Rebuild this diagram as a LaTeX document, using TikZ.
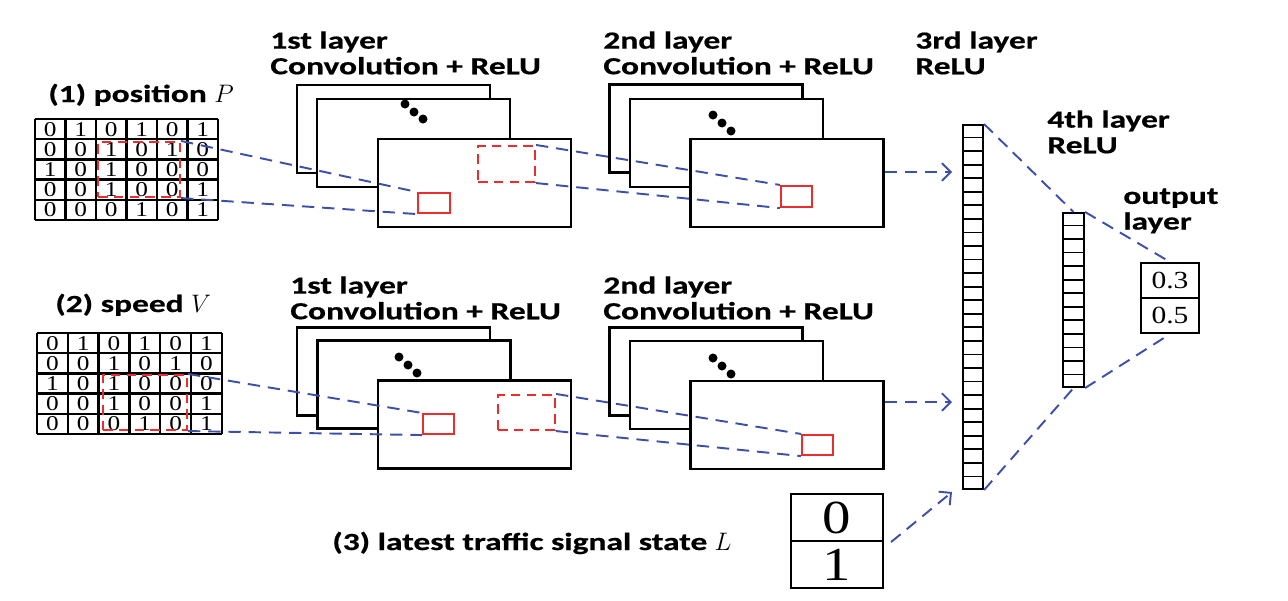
\documentclass[tikz,border=0pt]{standalone}
\usepackage{fontspec}
\newfontfamily\lblfont[FakeStretch=1.36,FakeBold=0.6]{Carlito}
\newfontfamily\numfont[FakeStretch=1.2]{Liberation Serif}
\usetikzlibrary{arrows.meta,calc}
\definecolor{linkblue}{RGB}{60,80,170}
\definecolor{winred}{RGB}{235,45,45}
\tikzset{
  fmap/.style={draw,fill=white,line width=1.2pt,minimum width=3.86cm,minimum height=1.76cm,inner sep=0pt},
  kbox/.style={draw=winred,line width=1.2pt,inner sep=0pt},
  kwin/.style={draw=winred,dash pattern=on 5.5pt off 3.5pt,line width=1.2pt,inner sep=0pt},
  link/.style={draw=linkblue,line width=1.1pt,dash pattern=on 7pt off 4.5pt},
  lbl/.style={font=\lblfont\bfseries\fontsize{14}{14.6}\selectfont,align=left,inner sep=0pt},
  num/.style={font=\numfont\fontsize{12}{12}\selectfont,inner sep=0pt},
  bar/.style={draw,line width=1.2pt,inner sep=0pt},
  dot/.style={circle,fill,inner sep=0pt,minimum size=0.18cm},
}
\begin{document}
\begin{tikzpicture}[x=0.02cm,y=-0.02cm]
  \useasboundingbox (0,0) rectangle (1288,600);
  % input matrices
  \begin{scope}[shift={(35,119)}]
    \foreach \c in {0,...,6} \draw[line width=1.4pt] (\c*30.5,0) -- (\c*30.5,101);
    \foreach \r in {0,...,5} \draw[line width=1.4pt] (0,\r*20.2) -- (183,\r*20.2);
    \foreach \vals [count=\r] in {{0,1,0,1,0,1},{0,0,1,0,1,0},{1,0,1,0,0,0},{0,0,1,0,0,1},{0,0,0,1,0,1}}
      \foreach \v [count=\c] in \vals
        \node[num] (p\r\c) at (\c*30.5-15.25,\r*20.2-10.1) {\v};
  \end{scope}
  \begin{scope}[shift={(37,333)}]
    \foreach \c in {0,...,6} \draw[line width=1.4pt] (\c*30.8,0) -- (\c*30.8,101);
    \foreach \r in {0,...,5} \draw[line width=1.4pt] (0,\r*20.2) -- (185,\r*20.2);
    \foreach \vals [count=\r] in {{0,1,0,1,0,1},{0,0,1,0,1,0},{1,0,1,0,0,0},{0,0,1,0,0,1},{0,0,0,1,0,1}}
      \foreach \v [count=\c] in \vals
        \node[num] (v\r\c) at (\c*30.8-15.4,\r*20.2-10.1) {\v};
  \end{scope}
  \node[kwin,minimum width=1.64cm,minimum height=1.1cm] (pwin) at (139,169.5) {};
  \node[kwin,minimum width=1.68cm,minimum height=1.1cm] (vwin) at (145,402.5) {};
  \node[lbl,anchor=base west] (ptitle) at (48,102) {(1) position $P$};
  \node[lbl,anchor=base west] (vtitle) at (55,312) {(2) speed $V$};
  % feature maps, position branch
  \node[fmap] (l1pa) at (393.5,129) {};
  \node[fmap] (l1pb) at (413.5,143) {};
  \node[fmap] (l1pf) at (474.5,183) {};
  \node[dot] (l1pd1) at (405,104) {};
  \node[dot] (l1pd2) at (414,112) {};
  \node[dot] (l1pd3) at (423,119) {};
  \node[fmap] (l2pa) at (706,128.5) {};
  \node[fmap] (l2pb) at (726.5,143) {};
  \node[fmap] (l2pf) at (787,183) {};
  \node[dot] (l2pd1) at (713,115) {};
  \node[dot] (l2pd2) at (722,123) {};
  \node[dot] (l2pd3) at (731,131) {};
  % feature maps, speed branch
  \node[fmap] (l1va) at (393.5,371.5) {};
  \node[fmap] (l1vb) at (414,384.5) {};
  \node[fmap] (l1vf) at (474.5,424.5) {};
  \node[dot] (l1vd1) at (399,357) {};
  \node[dot] (l1vd2) at (408,365) {};
  \node[dot] (l1vd3) at (417,373) {};
  \node[fmap] (l2va) at (706,371.5) {};
  \node[fmap] (l2vb) at (726.5,385) {};
  \node[fmap] (l2vf) at (787,425) {};
  \node[dot] (l2vd1) at (713,358) {};
  \node[dot] (l2vd2) at (722,366) {};
  \node[dot] (l2vd3) at (731,374) {};
  % kernels
  \node[kbox,minimum width=0.64cm,minimum height=0.4cm] (l1pbox) at (434,203) {};
  \node[kwin,minimum width=1.14cm,minimum height=0.72cm] (l1pwin) at (506.5,164) {};
  \node[kbox,minimum width=0.62cm,minimum height=0.42cm] (l2pbox) at (796.5,196.5) {};
  \node[kbox,minimum width=0.62cm,minimum height=0.4cm] (l1vbox) at (438.5,424) {};
  \node[kwin,minimum width=1.14cm,minimum height=0.7cm] (l1vwin) at (526.5,412.5) {};
  \node[kbox,minimum width=0.62cm,minimum height=0.4cm] (l2vbox) at (817.5,445) {};
  % dense layers
  \node[bar,minimum width=0.4cm,minimum height=7.28cm] (bar3) at (973,307) {};
  \foreach \i in {1,...,26}
    \draw[line width=1pt] ($(bar3.north west)!\i/27!(bar3.south west)$) -- ($(bar3.north east)!\i/27!(bar3.south east)$);
  \node[bar,minimum width=0.42cm,minimum height=3.48cm] (bar4) at (1073.5,300) {};
  \foreach \i in {1,...,12}
    \draw[line width=1pt] ($(bar4.north west)!\i/13!(bar4.south west)$) -- ($(bar4.north east)!\i/13!(bar4.south east)$);
  \node[bar,minimum width=1.16cm,minimum height=0.7cm,font=\numfont\fontsize{14}{14}\selectfont] (out1) at (1170,280.5) {0.3};
  \node[bar,minimum width=1.16cm,minimum height=0.7cm,font=\numfont\fontsize{14}{14}\selectfont] (out2) at (1170,315.5) {0.5};
  \node[bar,minimum width=1.84cm,minimum height=0.94cm,font=\numfont\fontsize{27}{27}\selectfont] (sig0) at (837,517.5) {0};
  \node[bar,minimum width=1.84cm,minimum height=0.94cm,font=\numfont\fontsize{27}{27}\selectfont] (sig1) at (837,564.5) {1};
  \coordinate (in1) at (952,172);
  \coordinate (in2) at (952,402);
  \coordinate (in3) at (952,492);
  % labels
  \node[lbl,anchor=north west] (t1p) at (270,31) {1st layer\\Convolution + ReLU};
  \node[lbl,anchor=north west] (t2p) at (603,31) {2nd layer\\Convolution + ReLU};
  \node[lbl,anchor=north west] (t3) at (915,31) {3rd layer\\ReLU};
  \node[lbl,anchor=north west] (t4) at (1047,110) {4th layer\\ReLU};
  \node[lbl,anchor=north west] (tout) at (1123,188) {output\\layer};
  \node[lbl,anchor=north west] (t1v) at (290,276) {1st layer\\Convolution + ReLU};
  \node[lbl,anchor=north west] (t2v) at (603,276) {2nd layer\\Convolution + ReLU};
  \node[lbl,anchor=base west] (tsig) at (332,550) {(3) latest traffic signal state $L$};
  % connections
  \draw[link] (pwin.north east) -- (l1pbox.north west);
  \draw[link] (pwin.south east) -- (l1pbox.south west);
  \draw[link] (l1pwin.north east) -- (l2pbox.north west);
  \draw[link] (l1pwin.south east) -- (l2pbox.south west);
  \draw[link] (vwin.north east) -- (l1vbox.north west);
  \draw[link] (vwin.south east) -- (l1vbox.south west);
  \draw[link] (l1vwin.north east) -- (l2vbox.north west);
  \draw[link] (l1vwin.south east) -- (l2vbox.south west);
  \draw[link,-{Straight Barb[length=5pt,width=10pt]}] (l2pf.east |- in1) -- (in1);
  \draw[link,-{Straight Barb[length=5pt,width=10pt]}] (l2vf.east |- in2) -- (in2);
  \draw[link,-{Straight Barb[length=5pt,width=10pt]}] ([xshift=0.14cm]sig0.south east) -- (in3);
  \draw[link] (bar3.north east) -- (bar4.north);
  \draw[link] (bar4.north east) -- (out1.north);
  \draw[link] (bar3.south east) -- (bar4.south);
  \draw[link] (bar4.south east) -- (out2.south);
\end{tikzpicture}
\end{document}
